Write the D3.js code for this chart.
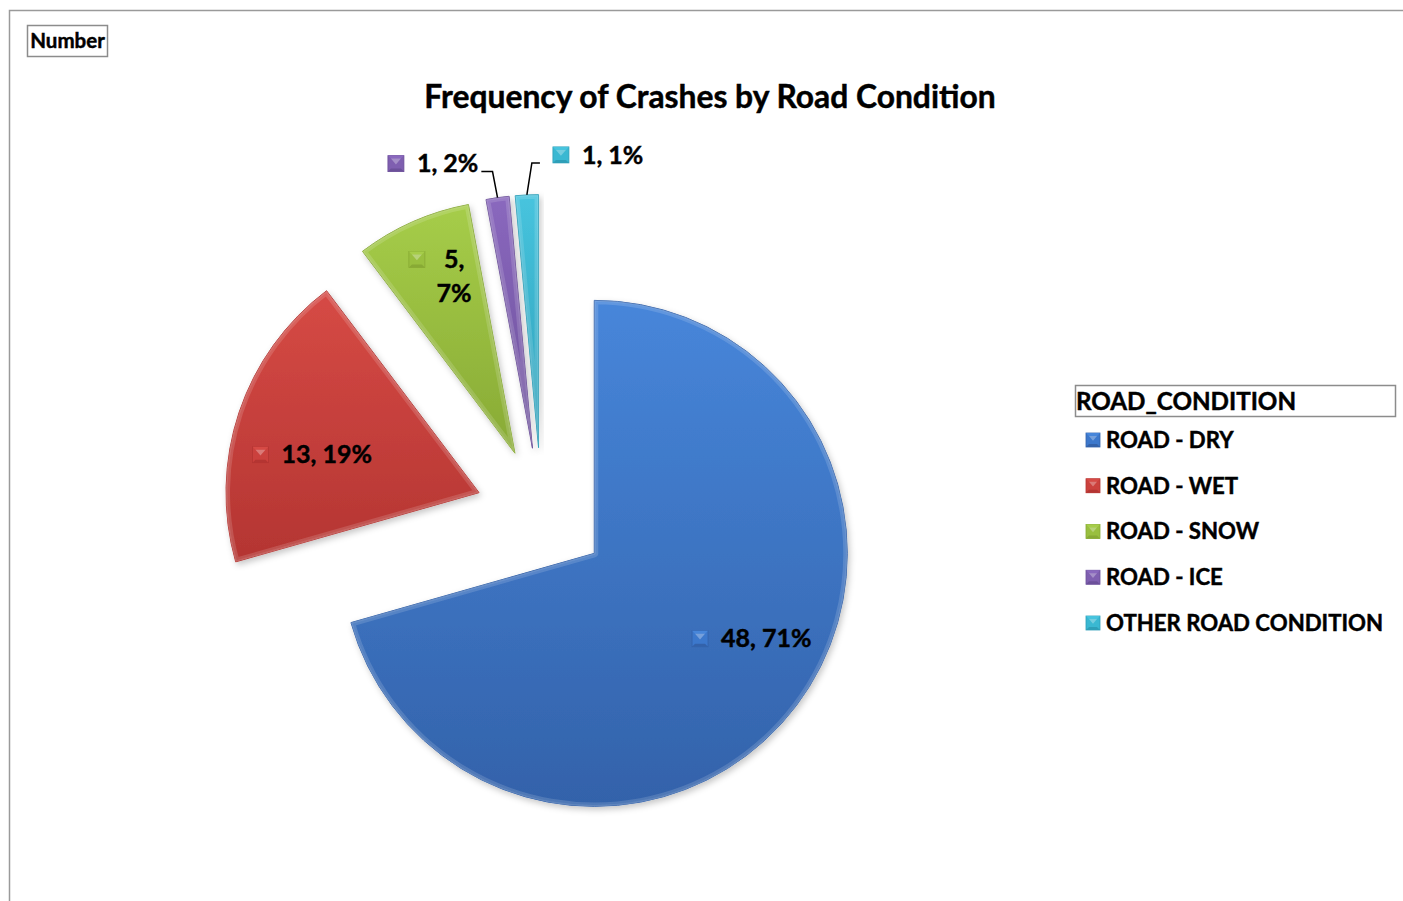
<!DOCTYPE html>
<html><head><meta charset="utf-8">
<script src="https://cdn.jsdelivr.net/npm/d3@7"></script>
<style>
body{margin:0;background:#fff;}
svg{display:block;font-family:Lato,'Open Sans',sans-serif;}
</style>
</head><body>
<svg id="c" width="1403" height="901"></svg>
<script>
// ---- data ----
const categories = ["ROAD - DRY", "ROAD - WET", "ROAD - SNOW", "ROAD - ICE", "OTHER ROAD CONDITION"];
const counts = [48, 13, 5, 1, 1];
const percentLabels = ["71%", "19%", "7%", "2%", "1%"];
const chartTitle = "Frequency of Crashes by Road Condition";
const legendTitle = "ROAD_CONDITION";
const fieldLabel = "Number";

// ---- style / layout ----
const colors = ["#3C78CC", "#CB413D", "#99BF3F", "#7F5FB0", "#3AB8D2"];
const lights = ["#4786DA", "#D64A45", "#A6CD49", "#8A68BE", "#47C4DE"];
const darks  = ["#3362AA", "#B43532", "#88AA35", "#6C509A", "#2E9FB8"];
const W = 1403, H = 901;
const cx = 541.6, cy = 513.6, R = 253, explode = 66;
// label placement (relative to exploded slice apex): [angle deg, distance px]
const labelPolar = [[116.4, 192], [284, 157], [341, 187], [343.4, 297], [14.2, 302]];
const outside = [false, false, false, true, true];
const wrapped = [false, false, true, false, false];
const boldStroke = 0.45;

const svg = d3.select("#c");
const defs = svg.append("defs");

const f = defs.append("filter").attr("id", "shadow").attr("x", "-20%").attr("y", "-20%").attr("width", "140%").attr("height", "140%");
f.append("feDropShadow").attr("dx", 2).attr("dy", 3).attr("stdDeviation", 3).attr("flood-color", "#000").attr("flood-opacity", 0.22);

colors.forEach((c, i) => {
  const g = defs.append("linearGradient").attr("id", "grad" + i).attr("x1", 0).attr("y1", 0).attr("x2", 0).attr("y2", 1);
  g.append("stop").attr("offset", "0%").attr("stop-color", lights[i]);
  g.append("stop").attr("offset", "100%").attr("stop-color", darks[i]);
});

function boldText(sel) {
  return sel.attr("font-weight", 700).attr("fill", "#000").attr("stroke", "#000")
    .attr("stroke-width", boldStroke).attr("paint-order", "stroke");
}

// outer chart border (extends beyond view)
svg.append("rect").attr("x", 9.5).attr("y", 10.5).attr("width", W + 20).attr("height", H + 20)
  .attr("fill", "none").attr("stroke", "#9a9a9a").attr("stroke-width", 1.5);

// field button "Number"
const nb = svg.append("g");
nb.append("rect").attr("x", 27.5).attr("y", 25.5).attr("width", 80).attr("height", 31)
  .attr("fill", "#fff").attr("stroke", "#8c8c8c").attr("stroke-width", 1.5);
boldText(nb.append("text").attr("x", 67.5).attr("y", 41).attr("dy", "0.35em").attr("text-anchor", "middle")
  .attr("font-size", 20.5)).text(fieldLabel);

// title
boldText(svg.append("text").attr("x", 710).attr("y", 97).attr("dy", "0.35em").attr("text-anchor", "middle")
  .attr("font-size", 31.8)).text(chartTitle);

// pie
const pie = d3.pie().sort(null).value(d => d).startAngle(0).endAngle(2 * Math.PI);
const arcs = pie(counts);
const arc = d3.arc().innerRadius(0).outerRadius(R);

const slices = svg.append("g").attr("transform", `translate(${cx},${cy})`);
arcs.forEach((a, i) => {
  const mid = (a.startAngle + a.endAngle) / 2;
  const ox = Math.sin(mid) * explode, oy = -Math.cos(mid) * explode;
  a.ox = ox; a.oy = oy;
  const g = slices.append("g").attr("transform", `translate(${ox},${oy})`);
  const cp = defs.append("clipPath").attr("id", "clip" + i);
  cp.append("path").attr("d", arc(a)).attr("transform", `translate(${cx + ox},${cy + oy})`);
  g.append("path").attr("d", arc(a)).attr("fill", `url(#grad${i})`).attr("filter", "url(#shadow)")
    .attr("stroke", darks[i]).attr("stroke-width", 1).attr("stroke-linejoin", "round");
  // inner bevel highlight
  const hl = svg.append("g").attr("clip-path", `url(#clip${i})`);
  hl.append("path").attr("d", arc(a)).attr("transform", `translate(${cx + ox},${cy + oy})`)
    .attr("fill", "none").attr("stroke", "#ffffff").attr("stroke-opacity", 0.14).attr("stroke-width", 8)
    .attr("stroke-linejoin", "round");
  hl.append("path").attr("d", arc(a)).attr("transform", `translate(${cx + ox},${cy + oy})`)
    .attr("fill", "none").attr("stroke", "#ffffff").attr("stroke-opacity", 0.1).attr("stroke-width", 3)
    .attr("stroke-linejoin", "round");
});

// beveled icon
function icon(g, x, y, s, i) {
  g.append("rect").attr("x", x).attr("y", y).attr("width", s).attr("height", s).attr("fill", colors[i])
    .attr("stroke", darks[i]).attr("stroke-width", 0.8);
  g.append("path").attr("d", `M${x},${y}L${x + s},${y}L${x + s - 3},${y + 3}L${x + 3},${y + 3}Z`).attr("fill", lights[i]);
  g.append("path").attr("d", `M${x + 3},${y + 3}L${x + s - 3},${y + 3}L${x + s / 2},${y + s * 0.55}Z`).attr("fill", "#ffffff").attr("opacity", 0.3);
  g.append("path").attr("d", `M${x},${y + s}L${x + s},${y + s}L${x + s - 3},${y + s - 3}L${x + 3},${y + s - 3}Z`).attr("fill", darks[i]);
}

// data labels
const labels = svg.append("g");
arcs.forEach((a, i) => {
  const apx = cx + a.ox, apy = cy + a.oy;
  const ang = labelPolar[i][0] * Math.PI / 180, dist = labelPolar[i][1];
  const tx = apx + Math.sin(ang) * dist, ty = apy - Math.cos(ang) * dist;
  const g = labels.append("g");
  const fs = 25;
  if (wrapped[i]) {
    const l1 = boldText(g.append("text").attr("x", tx).attr("y", ty - 17).attr("dy", "0.35em").attr("text-anchor", "middle")
      .attr("font-size", fs)).text(counts[i] + ",");
    boldText(g.append("text").attr("x", tx).attr("y", ty + 17).attr("dy", "0.35em").attr("text-anchor", "middle")
      .attr("font-size", fs)).text(percentLabels[i]);
    const w1 = l1.node().getComputedTextLength();
    icon(g, tx - w1 / 2 - 35, ty - 17 - 8, 16, i);
  } else {
    const t = boldText(g.append("text").attr("x", tx).attr("y", ty).attr("dy", "0.35em").attr("text-anchor", "middle")
      .attr("font-size", fs)).text(counts[i] + ", " + percentLabels[i]);
    const w = t.node().getComputedTextLength();
    const iconX = tx - w / 2 - 29;
    icon(g, iconX, ty - 8, 16, i);
    if (outside[i]) {
      const mid = (a.startAngle + a.endAngle) / 2;
      const ex = apx + Math.sin(mid) * R, ey = apy - Math.cos(mid) * R;
      const ly = ty + 8;
      const side = tx < ex ? 1 : -1;
      const edgeX = side > 0 ? tx + w / 2 + 3 : iconX - 13;
      const kneeX = ex - side * 5;
      labels.append("path").attr("d", `M${edgeX},${ly}L${kneeX},${ly}L${ex},${ey}`)
        .attr("fill", "none").attr("stroke", "#000").attr("stroke-width", 1.5);
    }
  }
});

// legend
const lg = svg.append("g");
lg.append("rect").attr("x", 1075.5).attr("y", 385.5).attr("width", 320).attr("height", 31)
  .attr("fill", "#fff").attr("stroke", "#8c8c8c").attr("stroke-width", 1.5);
boldText(lg.append("text").attr("x", 1076).attr("y", 402).attr("dy", "0.35em").attr("font-size", 24.2))
  .text(legendTitle);
const ly = d3.scalePoint().domain(categories).range([440, 623]);
categories.forEach((c, i) => {
  const y = ly(c);
  icon(lg, 1086, y - 7, 14, i);
  boldText(lg.append("text").attr("x", 1106).attr("y", y).attr("dy", "0.35em").attr("font-size", 22.2)).text(c);
});
</script>
</body></html>
